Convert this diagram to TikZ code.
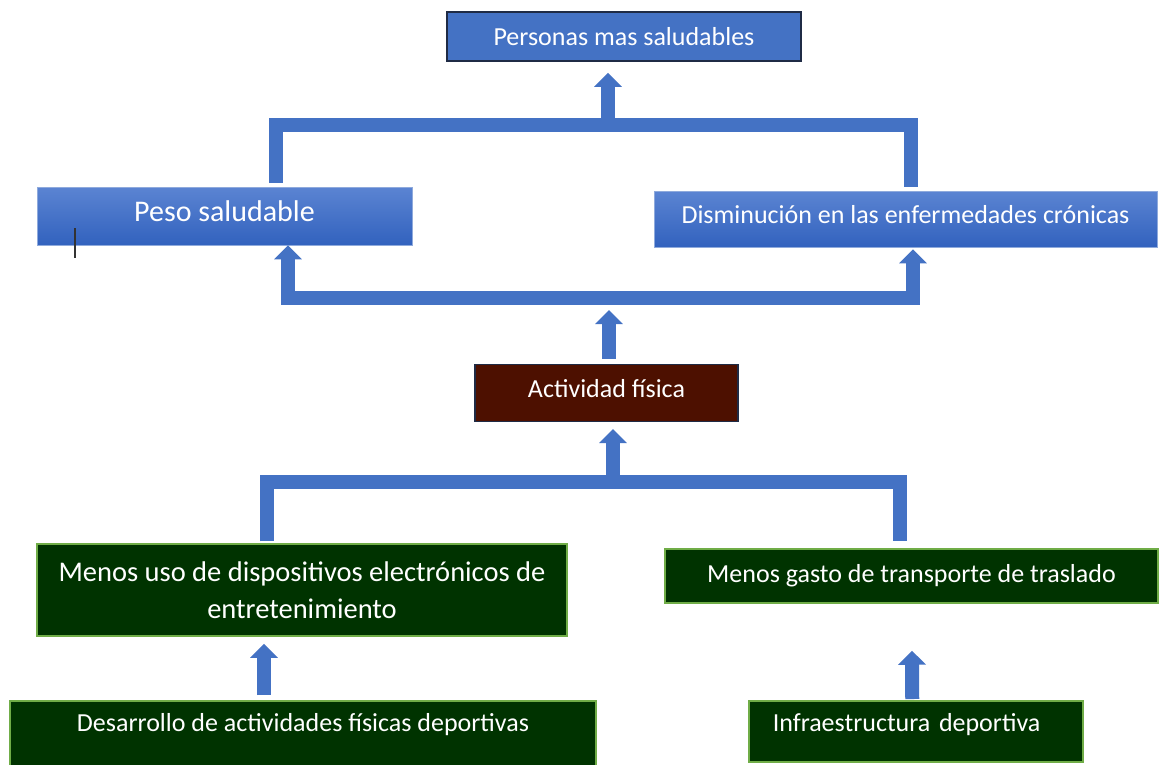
\documentclass[tikz,border=0pt]{standalone}
\usepackage{fontspec}
\setmainfont{Carlito}
\usetikzlibrary{arrows.meta}

\definecolor{flowblue}{HTML}{4472C4}
\definecolor{bluetop}{HTML}{5B84D2}
\definecolor{bluebottom}{HTML}{3262BE}
\definecolor{blueedge}{HTML}{8FAADC}
\definecolor{navyedge}{HTML}{1F2B45}
\definecolor{maroon}{HTML}{4D1000}
\definecolor{greenfill}{HTML}{003300}
\definecolor{greenedge}{HTML}{70AD47}

\begin{document}
\begin{tikzpicture}[x=1pt,y=-1pt]
\tikzset{
    block/.style={rectangle, text=white, font=\fontsize{26}{30}\selectfont, inner sep=0pt},
    bluebox/.style={block, draw=blueedge, line width=0.8pt, top color=bluetop, bottom color=bluebottom, text depth=9pt},
    topbox/.style={block, draw=navyedge, line width=1.5pt, fill=flowblue},
    actbox/.style={block, draw=navyedge, line width=1.2pt, fill=maroon, text depth=9pt},
    greenbox/.style={block, draw=greenedge, line width=1.5pt, fill=greenfill},
    flow/.style={draw=flowblue, line width=14pt, line join=miter, -{Triangle[width=27pt,length=14pt]}},
    bar/.style={draw=flowblue, line width=14pt, line join=miter}
}
  \useasboundingbox[fill=white] (0,0) rectangle (1160,764);

  \node[topbox, minimum width=354pt, minimum height=49pt] (top) at (624,36.5) {Personas mas saludables};
  \node[bluebox, minimum width=375pt, minimum height=58pt, font=\fontsize{30}{34}\selectfont] (peso) at (224.5,216) {Peso saludable};
  \node[bluebox, minimum width=503pt, minimum height=56pt] (dism) at (905.5,219) {Disminución en las enfermedades crónicas};
  \node[actbox, minimum width=263pt, minimum height=57pt] (act) at (606.5,393) {Actividad física};
  \node[greenbox, minimum width=530pt, minimum height=92pt, align=center, font=\fontsize{28.5}{37}\selectfont] (uso) at (302,590) {Menos uso de dispositivos electrónicos de\\entretenimiento};
  \node[greenbox, minimum width=493pt, minimum height=54pt] (gasto) at (911.5,576) {Menos gasto de transporte de traslado};
  \node[greenbox, anchor=north, minimum width=586pt, inner ysep=12pt, text height=19pt, text depth=50pt] (desa) at (303,700) {Desarrollo de actividades físicas deportivas};
  \node[greenbox, anchor=north west, text width=286pt, inner xsep=24pt, inner ysep=12pt, text height=19pt, text depth=18pt] (infra) at (748,700) {Infraestructura deportiva};

  \coordinate (upbar) at (608,125);
  \coordinate (lowbar) at (609,297.5);
  \coordinate (midbar) at (613,482);

  % top level
  \draw[bar] ([xshift=51pt,yshift=4pt]peso.north) |- (upbar) -| ([xshift=5pt,yshift=4pt]dism.north);
  \draw[flow, shorten >=11pt] (upbar) -- (upbar |- top.south);
  % effects of activity
  \draw[flow] (lowbar) -| ([xshift=63.5pt]peso.south);
  \draw[flow, shorten >=2pt] (lowbar) -| ([xshift=7.5pt]dism.south);
  \draw[flow, shorten <=5pt, shorten >=12.5pt] ([xshift=2.5pt]act.north) -- (lowbar);
  % causes
  \draw[bar] ([xshift=-35.5pt,yshift=2pt]uso.north) |- (midbar) -| ([xshift=-12pt,yshift=7pt]gasto.north);
  \draw[flow, shorten >=7pt] (midbar) -- (midbar |- act.south);
  \draw[flow] ([xshift=-39pt,yshift=5pt]desa.north) -- ([xshift=-38pt,yshift=-7pt]uso.south);
  \draw[flow] ([xshift=-3.5pt,yshift=1pt]infra.north) -- ([xshift=0.5pt,yshift=-47pt]gasto.south);

  % cursor mark
  \draw[line width=1.5pt, draw=black!80] (75,228) -- (75,258);
\end{tikzpicture}
\end{document}
